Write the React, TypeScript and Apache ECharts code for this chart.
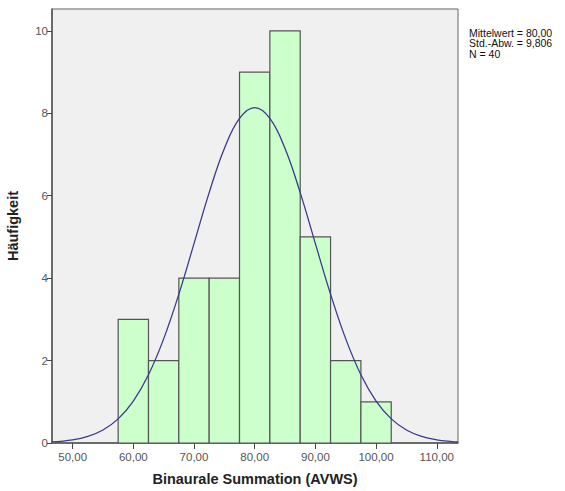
import React, { useEffect, useRef } from "react";
import * as echarts from "echarts";

// Histogram bins (lower edge, upper edge, count)
const binStarts = [57.5, 62.5, 67.5, 72.5, 77.5, 82.5, 87.5, 92.5, 97.5];
const binEnds = [62.5, 67.5, 72.5, 77.5, 82.5, 87.5, 92.5, 97.5, 102.5];
const binCounts = [3, 2, 4, 4, 9, 10, 5, 2, 1];

// Fitted normal curve
const curveX = [46.6, 50, 52.5, 55, 57.5, 60, 62.5, 65, 67.5, 70, 72.5, 75, 77.5, 80, 82.5, 85, 87.5, 90, 92.5, 95, 97.5, 100, 102.5, 105, 107.5, 110, 112.5, 113.5];
const curveY = [0.025, 0.076, 0.16, 0.316, 0.585, 1.016, 1.656, 2.526, 3.61, 4.837, 6.074, 7.145, 7.877, 8.137, 7.877, 7.145, 6.074, 4.837, 3.61, 2.526, 1.656, 1.016, 0.585, 0.316, 0.16, 0.076, 0.034, 0.024];

const xTicks = [50, 60, 70, 80, 90, 100, 110];
const yTicks = [0, 2, 4, 6, 8, 10];
const statsLines = ["Mittelwert = 80,00", "Std.-Abw. = 9,806", "N = 40"];

const FONT = "'Liberation Sans', Arial, sans-serif";

export default function App() {
  const ref = useRef<HTMLDivElement>(null);
  useEffect(() => {
    if (!ref.current) return;
    const chart = echarts.init(ref.current, null, { renderer: "svg" });
    const barData = binStarts.map((s, i) => [s, binEnds[i], binCounts[i]]);
    const lineData = curveX.map((x, i) => [x, curveY[i]]);
    chart.setOption({
      animation: false,
      backgroundColor: "#ffffff",
      grid: {
        left: 52,
        right: 107,
        top: 9,
        bottom: 48,
        containLabel: false,
        outerBoundsMode: "none",
        show: true,
        backgroundColor: "#f0f0f0",
        borderColor: "#666666",
        borderWidth: 1,
      },
      xAxis: {
        type: "value",
        min: 46.6,
        max: 113.5,
        name: "Binaurale Summation (AVWS)",
        nameLocation: "middle",
        nameGap: 28,
        nameTextStyle: { fontFamily: FONT, fontSize: 14.5, fontWeight: "bold", color: "#222" },
        axisLine: { show: true, onZero: false, lineStyle: { color: "#555", width: 1.5 } },
        axisTick: { show: true, customValues: xTicks, length: 6, lineStyle: { color: "#444" } },
        axisLabel: {
          customValues: xTicks,
          formatter: (v: number) => v.toFixed(2).replace(".", ","),
          fontFamily: FONT,
          fontSize: 11.5,
          color: "#555",
          margin: 8,
        },
        splitLine: { show: false },
      },
      yAxis: {
        type: "value",
        min: 0,
        max: 10.53,
        name: "Häufigkeit",
        nameLocation: "middle",
        nameGap: 32,
        nameTextStyle: { fontFamily: FONT, fontSize: 14.5, fontWeight: "bold", color: "#222" },
        axisLine: { show: true, lineStyle: { color: "#555", width: 1.5 } },
        axisTick: { show: true, customValues: yTicks, length: 5, lineStyle: { color: "#444" } },
        axisLabel: {
          customValues: yTicks,
          fontFamily: FONT,
          fontSize: 11.5,
          color: "#555",
          margin: 4,
        },
        splitLine: { show: false },
      },
      series: [
        {
          type: "custom",
          data: barData,
          encode: { x: [0, 1], y: 2 },
          renderItem: (params: any, api: any) => {
            const p0 = api.coord([api.value(0), 0]);
            const p1 = api.coord([api.value(1), api.value(2)]);
            return {
              type: "rect",
              shape: { x: p0[0], y: p1[1], width: p1[0] - p0[0], height: p0[1] - p1[1] },
              style: { fill: "#ccffcc", stroke: "#555555", lineWidth: 1.2 },
            };
          },
          z: 2,
        },
        {
          type: "line",
          data: lineData,
          smooth: 0.4,
          showSymbol: false,
          symbol: "none",
          lineStyle: { color: "#3a3a8c", width: 1.3 },
          z: 3,
        },
      ],
      graphic: [
        {
          type: "text",
          left: 469,
          top: 27,
          style: {
            text: statsLines.join("\n"),
            fontFamily: FONT,
            fontSize: 10.5,
            lineHeight: 10.5,
            fill: "#111",
          },
        },
      ],
    });
    return () => chart.dispose();
  }, []);
  return (
    <div
      ref={ref}
      style={{ position: "fixed", left: 0, top: 0, width: 565, height: 491 }}
    />
  );
}
